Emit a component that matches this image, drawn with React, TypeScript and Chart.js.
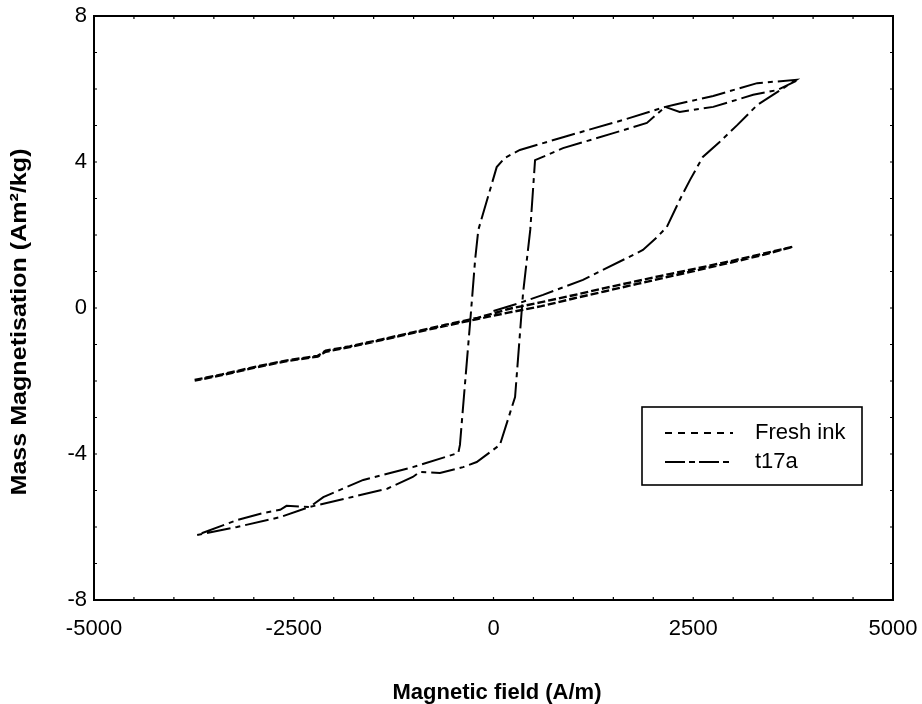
import React, { useEffect, useRef } from "react";
import { Chart, registerables } from "chart.js";

Chart.register(...registerables);

// ---- tick values ----
const xTicks = [-5000, -2500, 0, 2500, 5000];
const yTicks = [-8, -4, 0, 4, 8];

// ---- text ----
const xTitle = "Magnetic field (A/m)";
const yTitle = "Mass Magnetisation (Am²/kg)";
const legendLabels = ["Fresh ink", "t17a"];

// ---- Fresh ink (out and back) ----
const freshField = [
  -3740, -3400, -3000, -2600, -2200, -2100, -1800, -1400, -1000, -600, -200, 200, 600, 1000, 1400, 1800, 2200, 2600, 3000, 3400, 3750,
  3400, 3000, 2600, 2200, 1800, 1400, 1000, 600, 200, -200, -600, -1000, -1400, -1800, -2100, -2200, -2600, -3000, -3400, -3740,
];
const freshMag = [
  -1.97, -1.82, -1.62, -1.44, -1.31, -1.17, -1.05, -0.86, -0.66, -0.46, -0.27, -0.02, 0.16, 0.35, 0.55, 0.74, 0.93, 1.11, 1.3, 1.5, 1.68,
  1.47, 1.26, 1.06, 0.86, 0.66, 0.46, 0.26, 0.05, -0.12, -0.3, -0.49, -0.68, -0.88, -1.07, -1.2, -1.33, -1.46, -1.64, -1.84, -1.99,
];

// ---- t17a: initial curve ----
const t17aInitField = [0, 330, 620, 1120, 1670, 1870, 2050, 2170, 2330, 2460, 2620, 2830, 3050, 3300, 3590, 3790];
const t17aInitMag = [-0.08, 0.14, 0.36, 0.77, 1.37, 1.59, 1.95, 2.22, 2.96, 3.51, 4.14, 4.55, 5.01, 5.56, 5.97, 6.25];

// ---- t17a: descending branch ----
const t17aDownField = [
  3300, 2750, 2250, 2150, 1620, 870, 330, 140, 40, -190, -230, -290, -360, -420, -440, -1010, -1630, -2130, -2300, -2590, -2670,
  -2890, -3210, -3710,
];
const t17aDownMag = [
  6.16, 5.81, 5.56, 5.51, 5.15, 4.68, 4.33, 4.11, 3.86, 2.14, 1.32, -0.33, -2.16, -3.75, -3.97, -4.36, -4.71, -5.18, -5.45, -5.42, -5.53,
  -5.62, -5.81, -6.22,
];

// ---- t17a: ascending branch ----
const t17aUpField = [
  -3210, -2670, -2300, -1830, -1330, -1010, -920, -670, -380, -210, 80, 270, 370, 460, 520, 870, 1500, 1920, 2150, 2330, 2750, 3250,
  3550, 3790,
];
const t17aUpMag = [
  -6.0, -5.73, -5.45, -5.21, -4.95, -4.63, -4.49, -4.52, -4.36, -4.22, -3.75, -2.44, 0.41, 2.14, 4.05, 4.38, 4.79, 5.07, 5.51, 5.37,
  5.51, 5.84, 5.97, 6.22,
];

const FONT = "'Liberation Sans', Arial, Helvetica, sans-serif";

const toPts = (xs: number[], ys: number[]) => xs.map((x, i) => ({ x, y: ys[i] }));

const zeroPad = (s: any) => {
  s.paddingLeft = 0;
  s.paddingRight = 0;
  s.paddingTop = 0;
  s.paddingBottom = 0;
};

const decorPlugin = {
  id: "decor",
  afterDraw(chart: any) {
    const { ctx, chartArea: a, scales } = chart;
    const xs = scales.x;
    const ys = scales.y;
    ctx.save();
    // frame
    ctx.strokeStyle = "#000";
    ctx.lineWidth = 2;
    ctx.setLineDash([]);
    ctx.strokeRect(a.left, a.top, a.right - a.left, a.bottom - a.top);

    // small inward ticks
    ctx.lineWidth = 1.2;
    for (let v = -4500; v <= 4500; v += 500) {
      const px = xs.getPixelForValue(v);
      ctx.beginPath();
      ctx.moveTo(px, a.bottom);
      ctx.lineTo(px, a.bottom - 3);
      ctx.moveTo(px, a.top);
      ctx.lineTo(px, a.top + 3);
      ctx.stroke();
    }
    for (let v = -7; v <= 7; v += 1) {
      const py = ys.getPixelForValue(v);
      ctx.beginPath();
      ctx.moveTo(a.left, py);
      ctx.lineTo(a.left + 3, py);
      ctx.moveTo(a.right, py);
      ctx.lineTo(a.right - 3, py);
      ctx.stroke();
    }

    // legend
    const lx = 642, ly = 407, lw = 220, lh = 78;
    ctx.fillStyle = "#fff";
    ctx.fillRect(lx, ly, lw, lh);
    ctx.lineWidth = 1.6;
    ctx.strokeRect(lx, ly, lw, lh);
    ctx.lineWidth = 2;
    ctx.beginPath();
    ctx.setLineDash([7, 6]);
    ctx.moveTo(665, 433);
    ctx.lineTo(733, 433);
    ctx.stroke();
    ctx.beginPath();
    ctx.setLineDash([20, 4, 6, 4]);
    ctx.moveTo(665, 462);
    ctx.lineTo(733, 462);
    ctx.stroke();
    ctx.setLineDash([]);
    ctx.fillStyle = "#000";
    ctx.font = `22px ${FONT}`;
    ctx.textAlign = "left";
    ctx.textBaseline = "middle";
    ctx.fillText(legendLabels[0], 755, 433);
    ctx.fillText(legendLabels[1], 755, 462);

    // axis titles
    ctx.font = `bold 22px ${FONT}`;
    ctx.textAlign = "center";
    ctx.textBaseline = "alphabetic";
    ctx.fillText(xTitle, 497, 699);
    ctx.save();
    ctx.translate(26, 322);
    ctx.rotate(-Math.PI / 2);
    ctx.scale(1.14, 1);
    ctx.fillText(yTitle, 0, 0);
    ctx.restore();

    ctx.restore();
  },
};

export default function App() {
  const ref = useRef<HTMLCanvasElement>(null);
  useEffect(() => {
    document.body.style.margin = "0";
    const chart = new Chart(ref.current as HTMLCanvasElement, {
      type: "scatter",
      data: {
        datasets: [
          {
            label: legendLabels[0],
            data: toPts(freshField, freshMag),
            showLine: true,
            borderColor: "#000",
            backgroundColor: "#000",
            borderWidth: 2.4,
            borderDash: [8, 3],
            pointRadius: 0,
            tension: 0,
          },
          {
            label: legendLabels[1],
            data: [
              ...toPts(t17aInitField, t17aInitMag),
              ...toPts(t17aDownField, t17aDownMag),
              ...toPts(t17aUpField, t17aUpMag),
            ],
            showLine: true,
            borderColor: "#000",
            backgroundColor: "#000",
            borderWidth: 2,
            borderDash: [24, 5, 5, 5],
            pointRadius: 0,
            tension: 0,
          },
        ],
      },
      options: {
        responsive: false,
        animation: false,
        devicePixelRatio: 1,
        layout: { padding: { left: 0, right: 29, top: 16, bottom: 0 } },
        plugins: { legend: { display: false }, tooltip: { enabled: false } },
        scales: {
          x: {
            type: "linear",
            min: -5000,
            max: 5000,
            grid: { display: false, drawTicks: false },
            border: { display: false },
            ticks: {
              autoSkip: false,
              maxRotation: 0,
              padding: 16,
              color: "#000",
              font: { family: FONT, size: 22 },
              callback: (v: any) => String(v),
            },
            afterBuildTicks: (s: any) => {
              s.ticks = xTicks.map((v) => ({ value: v }));
            },
            afterFit: (s: any) => {
              s.height = 104;
              zeroPad(s);
            },
          },
          y: {
            type: "linear",
            min: -8,
            max: 8,
            grid: { display: false, drawTicks: false },
            border: { display: false },
            ticks: {
              autoSkip: false,
              padding: 7,
              color: "#000",
              font: { family: FONT, size: 22 },
              callback: (v: any) => String(v),
            },
            afterBuildTicks: (s: any) => {
              s.ticks = yTicks.map((v) => ({ value: v }));
            },
            afterFit: (s: any) => {
              s.width = 94;
              zeroPad(s);
            },
          },
        },
      },
      plugins: [decorPlugin],
    } as any);
    return () => chart.destroy();
  }, []);
  return <canvas ref={ref} width={922} height={704} style={{ display: "block" }} />;
}
